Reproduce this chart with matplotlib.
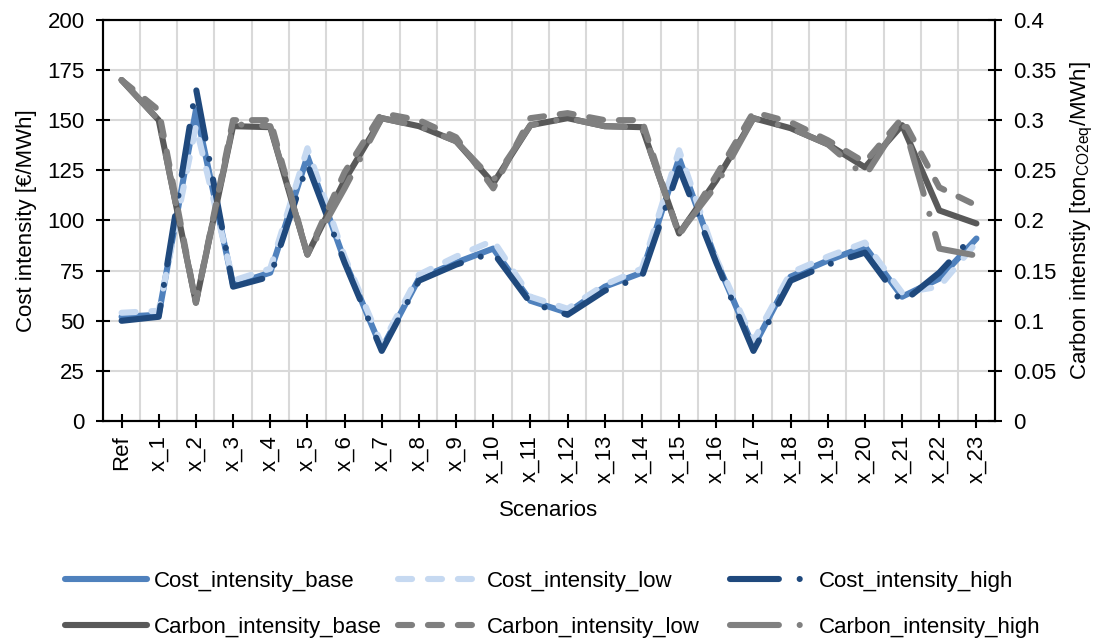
import matplotlib
matplotlib.use("Agg")
import matplotlib.pyplot as plt
from matplotlib.ticker import MultipleLocator, FuncFormatter, FixedLocator
import numpy as np

plt.rcParams["font.family"] = ["Liberation Sans", "DejaVu Sans"]
plt.rcParams["mathtext.fontset"] = "custom"
plt.rcParams["mathtext.rm"] = "Liberation Sans"
FS = 16
plt.rcParams["font.size"] = FS

scenarios = ["Ref"] + [f"x_{i}" for i in range(1, 24)]

cost_base = [52, 53, 155, 68, 74, 132, 80, 36, 71, 79, 86, 60,
             54, 67, 74, 131, 80, 37, 72, 80, 87, 62, 71, 91]
cost_low = [54, 55, 147, 70, 76, 136, 82, 38, 73, 82, 90, 62,
            56, 68, 76, 135, 81, 40, 74, 82, 89, 64, 67, 89]
cost_high = [50, 52, 166, 67, 72, 128, 79, 35, 70, 78, 84, 59,
             53, 65, 72, 126, 79, 35, 70, 78, 84, 59, 74, 94]

carbon_base = [0.340, 0.300, 0.118, 0.294, 0.293, 0.166, 0.240, 0.302,
               0.294, 0.279, 0.237, 0.295, 0.302, 0.294, 0.293, 0.187,
               0.240, 0.302, 0.292, 0.276, 0.253, 0.295, 0.210, 0.197]
carbon_low = [0.340, 0.310, 0.118, 0.300, 0.300, 0.166, 0.248, 0.307,
              0.300, 0.283, 0.232, 0.302, 0.307, 0.300, 0.300, 0.185,
              0.245, 0.308, 0.298, 0.280, 0.258, 0.302, 0.233, 0.215]
carbon_high = [0.340, 0.300, 0.118, 0.296, 0.294, 0.166, 0.232, 0.302,
               0.294, 0.279, 0.240, 0.295, 0.302, 0.294, 0.293, 0.187,
               0.235, 0.302, 0.292, 0.276, 0.244, 0.302, 0.172, 0.165]

x = np.arange(len(scenarios))
LW = 4.4
dash_short = (0, (2.3, 2.6))
dash_dot = (0, (8.0, 3.4, 0.01, 3.4))

fig = plt.figure(figsize=(10.99, 6.40), dpi=100)
ax = fig.add_axes([0.0937, 0.342, 0.8117, 0.627])
ax2 = ax.twinx()

common = dict(lw=LW, solid_capstyle="round", dash_capstyle="round",
              solid_joinstyle="round", dash_joinstyle="round")

h1, = ax.plot(x, cost_base, color="#4F81BD", ls="-", label="Cost_intensity_base", **common)
h2, = ax.plot(x, cost_low, color="#C6D9F1", ls=dash_short, label="Cost_intensity_low", **common)
h3, = ax.plot(x, cost_high, color="#1F497D", ls=dash_dot, label="Cost_intensity_high", **common)

h4, = ax2.plot(x, carbon_base, color="#595959", ls="-", label="Carbon_intensity_base", **common)
h5, = ax2.plot(x, carbon_low, color="#7F7F7F", ls=dash_short, label="Carbon_intensity_low", **common)
h6, = ax2.plot(x, carbon_high, color="#808080", ls=dash_dot, label="Carbon_intensity_high", **common)

ax.set_xlim(-0.5, len(scenarios) - 0.5)
ax.set_ylim(0, 200)
ax2.set_ylim(0, 0.4)

ax.set_xticks(x)
ax.set_xticklabels(scenarios, rotation=90)
ax.xaxis.set_minor_locator(FixedLocator(np.arange(0.5, len(scenarios) - 0.5, 1)))
ax.yaxis.set_major_locator(MultipleLocator(25))
ax2.yaxis.set_major_locator(MultipleLocator(0.05))
ax2.yaxis.set_major_formatter(FuncFormatter(lambda v, p: f"{v:g}"))

ax.grid(True, axis="y", which="major", color="#D9D9D9", lw=1.5)
ax.grid(True, axis="x", which="minor", color="#D9D9D9", lw=1.5)
ax.set_axisbelow(True)

for a in (ax, ax2):
    for s in a.spines.values():
        s.set_linewidth(1.5)
        s.set_color("black")
ax.tick_params(axis="y", which="major", direction="inout", length=10, width=1.5,
               labelsize=FS, pad=8)
ax.tick_params(axis="x", which="major", direction="inout", length=10, width=1.5,
               labelsize=FS, pad=5)
ax.tick_params(axis="x", which="minor", length=0)
ax2.tick_params(axis="y", direction="inout", length=10, width=1.5, labelsize=FS, pad=8)

ax.set_ylabel("Cost intensity [€/MWh]", fontsize=FS, labelpad=8)
ax2.set_ylabel("Carbon intenstiy [ton$_{\\mathrm{CO2eq}}$/MWh]", fontsize=FS, labelpad=9)
ax.set_xlabel("Scenarios", fontsize=FS, labelpad=12)

# Legend: three equal-width columns, each holding one cost and one carbon entry
columns = [(h1, h4), (h2, h5), (h3, h6)]
col_left = [0.0591, 0.3621, 0.6643]
for (ha, hb), xl in zip(columns, col_left):
    fig.legend(handles=[ha, hb], labels=[ha.get_label(), hb.get_label()],
               loc="center left", bbox_to_anchor=(xl, 0.0555), ncol=1,
               frameon=False, borderpad=0, borderaxespad=0, fontsize=FS,
               handlelength=3.7, handletextpad=0.3, labelspacing=1.1)

fig.savefig("out.png", dpi=100)
